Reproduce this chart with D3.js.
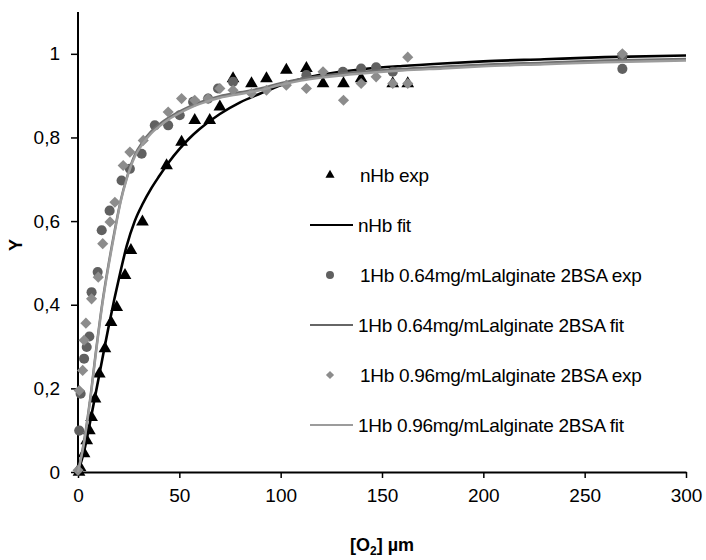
<!DOCTYPE html>
<html>
<head>
<meta charset="utf-8">
<script src="https://cdn.jsdelivr.net/npm/d3@7"></script>
<style>
  body { margin: 0; background: #fff; }
  svg text { font-family: "Liberation Sans", Arial, sans-serif; }
</style>
</head>
<body>
<svg id="canvas" width="706" height="560"></svg>
<script>
// experimental points [O2, Y]
var nHbExp = [
  [0.5, 0.0], [1, 0.011], [3, 0.044], [4.3, 0.075], [5.6, 0.099], [6.7, 0.131],
  [8.4, 0.175], [10.5, 0.235], [13.3, 0.295], [16.3, 0.358], [19.1, 0.394],
  [23.2, 0.47], [26.1, 0.53], [31.8, 0.598], [43.7, 0.733], [51.1, 0.789],
  [57.6, 0.841], [65, 0.841], [70, 0.873], [76.5, 0.941], [85.6, 0.929],
  [93, 0.941], [102.8, 0.961], [112.7, 0.965], [120.9, 0.929], [131, 0.929],
  [139.7, 0.941], [155.3, 0.929], [162.7, 0.929], [268.6, 0.99],
];
var alg064Exp = [
  [0.6, 0.099], [1.3, 0.187], [3, 0.271], [4.3, 0.299], [5.6, 0.324], [6.7, 0.43],
  [9.7, 0.478], [11.7, 0.578], [15.6, 0.625], [21.5, 0.697], [25.6, 0.725],
  [31.4, 0.761], [37.9, 0.829], [44.5, 0.829], [50.2, 0.853], [56.8, 0.885],
  [64.2, 0.893], [69.1, 0.917], [76.5, 0.933], [112.7, 0.949], [130.7, 0.957],
  [139.7, 0.965], [147.1, 0.968], [155.3, 0.957], [268.6, 0.964], [268.6, 0.996],
];
var alg096Exp = [
  [0, 0.004], [0.6, 0.195], [2.3, 0.243], [3, 0.315], [3.9, 0.356], [6.7, 0.414],
  [10, 0.466], [12.2, 0.546], [15.8, 0.598], [18.2, 0.645], [22.3, 0.733],
  [25.6, 0.765], [32.2, 0.793], [44.5, 0.861], [51.1, 0.893], [57.6, 0.889],
  [64.2, 0.893], [70, 0.917], [76.5, 0.913], [85.6, 0.905], [93, 0.913],
  [102.8, 0.925], [112.7, 0.917], [120.9, 0.957], [131, 0.889], [139.7, 0.929],
  [147.1, 0.945], [155.3, 0.929], [162.7, 0.992], [162.7, 0.929], [268.6, 1.0],
];

// fitted curves
var fitX = [0, 3, 6, 9, 12, 15, 18, 21, 24, 28, 32, 36, 40, 45, 50, 55, 60, 70, 80, 90,
  100, 110, 120, 140, 160, 180, 200, 230, 260, 300];
var nHbFitY = [0, 0.05, 0.12, 0.195, 0.27, 0.345, 0.415, 0.48, 0.54, 0.6, 0.642, 0.677,
  0.707, 0.742, 0.772, 0.798, 0.82, 0.856, 0.884, 0.905, 0.925, 0.94, 0.95, 0.963, 0.971,
  0.977, 0.982, 0.987, 0.992, 0.996];
var alg064FitY = [0, 0.075, 0.175, 0.295, 0.405, 0.495, 0.575, 0.648, 0.703, 0.758, 0.79,
  0.814, 0.831, 0.848, 0.862, 0.874, 0.884, 0.899, 0.908, 0.917, 0.93, 0.94, 0.947, 0.957,
  0.964, 0.969, 0.974, 0.979, 0.984, 0.988];
var alg096FitY = [0, 0.07, 0.17, 0.29, 0.4, 0.49, 0.57, 0.645, 0.7, 0.754, 0.785, 0.809,
  0.826, 0.844, 0.858, 0.87, 0.88, 0.895, 0.904, 0.913, 0.926, 0.936, 0.943, 0.953, 0.96,
  0.965, 0.97, 0.975, 0.98, 0.984];

var xTicks = [0, 50, 100, 150, 200, 250, 300];
var yTicks = [0, 0.2, 0.4, 0.6, 0.8, 1];
var legendLabels = [
  'nHb exp', 'nHb fit',
  '1Hb 0.64mg/mLalginate 2BSA exp', '1Hb 0.64mg/mLalginate 2BSA fit',
  '1Hb 0.96mg/mLalginate 2BSA exp', '1Hb 0.96mg/mLalginate 2BSA fit',
];

var svg = d3.select('#canvas');
var mLeft = 78, mRight = 686, mTop = 12, mBottom = 472;

var x = d3.scaleLinear().domain([0, 300]).range([mLeft, mRight]);
var y = d3.scaleLinear().domain([0, 1.1]).range([mBottom, mTop]);

// axes
var xAxis = svg.append('g')
  .attr('transform', 'translate(0,' + mBottom + ')')
  .call(d3.axisBottom(x).tickValues(xTicks).tickSize(6).tickPadding(11).tickSizeOuter(0));
var yAxis = svg.append('g')
  .attr('transform', 'translate(' + mLeft + ',0)')
  .call(d3.axisLeft(y).tickValues(yTicks).tickSize(7).tickPadding(11).tickSizeOuter(0)
    .tickFormat(d => d3.format('~g')(d).replace('.', ',')));
[xAxis, yAxis].forEach(a => {
  a.select('.domain').attr('stroke', '#000').attr('stroke-width', 2);
  a.selectAll('.tick line').attr('stroke', '#000').attr('stroke-width', 1.5);
  a.selectAll('text').style('font-size', '19px').attr('fill', '#000');
});
// axis line runs to 1.1 on top
yAxis.select('.domain').attr('d', 'M0,' + mBottom + 'V' + mTop);

var line = d3.line().x(d => x(d[0])).y(d => y(d[1])).curve(d3.curveMonotoneX);
var tri = d3.symbol(d3.symbolTriangle, 70);
var dot = d3.symbol(d3.symbolCircle, 80);
var dia = d3.symbol(d3.symbolSquare, 62);

function drawLine(ys, color, w) {
  svg.append('path')
    .datum(fitX.map((v, i) => [v, ys[i]]))
    .attr('d', line)
    .attr('fill', 'none')
    .attr('stroke', color)
    .attr('stroke-width', w);
}

function drawPoints(data, sym, color, rot) {
  svg.append('g').selectAll('path')
    .data(data)
    .enter()
    .append('path')
    .attr('d', sym)
    .attr('transform', d => 'translate(' + x(d[0]) + ',' + y(d[1]) + ')' + (rot ? ' rotate(45)' : ''))
    .attr('fill', color);
}

drawPoints(nHbExp, tri, '#000', false);
drawLine(nHbFitY, '#000', 2.6);
drawPoints(alg064Exp, dot, '#606060', false);
drawLine(alg064FitY, '#6e6e6e', 2.4);
drawPoints(alg096Exp, dia, '#8c8c8c', true);
drawLine(alg096FitY, '#9c9c9c', 2.4);

// legend
var legend = svg.append('g');
var lgY = 175, lgStep = 50;
var lgLineColors = ['', '#000', '', '#666', '', '#9c9c9c'];
legendLabels.forEach((lab, i) => {
  var cy = lgY + i * lgStep;
  if (i === 0) {
    legend.append('path').attr('d', d3.symbol(d3.symbolTriangle, 36)).attr('fill', '#000')
      .attr('transform', 'translate(330,' + cy + ')');
  } else if (i === 2) {
    legend.append('path').attr('d', d3.symbol(d3.symbolCircle, 50)).attr('fill', '#606060')
      .attr('transform', 'translate(330,' + cy + ')');
  } else if (i === 4) {
    legend.append('path').attr('d', d3.symbol(d3.symbolSquare, 34)).attr('fill', '#8c8c8c')
      .attr('transform', 'translate(330,' + cy + ') rotate(45)');
  } else {
    legend.append('line').attr('x1', 310).attr('x2', 353).attr('y1', cy).attr('y2', cy)
      .attr('stroke', lgLineColors[i]).attr('stroke-width', 2);
  }
  legend.append('text')
    .attr('x', i % 2 === 0 ? 360 : 358)
    .attr('y', cy)
    .attr('dy', '0.35em')
    .style('font-size', '19px')
    .style('letter-spacing', '-0.3px')
    .text(lab);
});

// axis titles
var xt = svg.append('text')
  .attr('x', (mLeft + mRight) / 2)
  .attr('y', 551)
  .attr('text-anchor', 'middle')
  .style('font-size', '18px')
  .style('font-weight', 'bold');
xt.append('tspan').text('[O');
xt.append('tspan').text('2').attr('dy', 4).style('font-size', '12px');
xt.append('tspan').text('] µm').attr('dy', -4);

svg.append('text')
  .attr('transform', 'translate(22,245) rotate(-90)')
  .attr('text-anchor', 'middle')
  .style('font-size', '18px')
  .style('font-weight', 'bold')
  .text('Y');
</script>
</body>
</html>
